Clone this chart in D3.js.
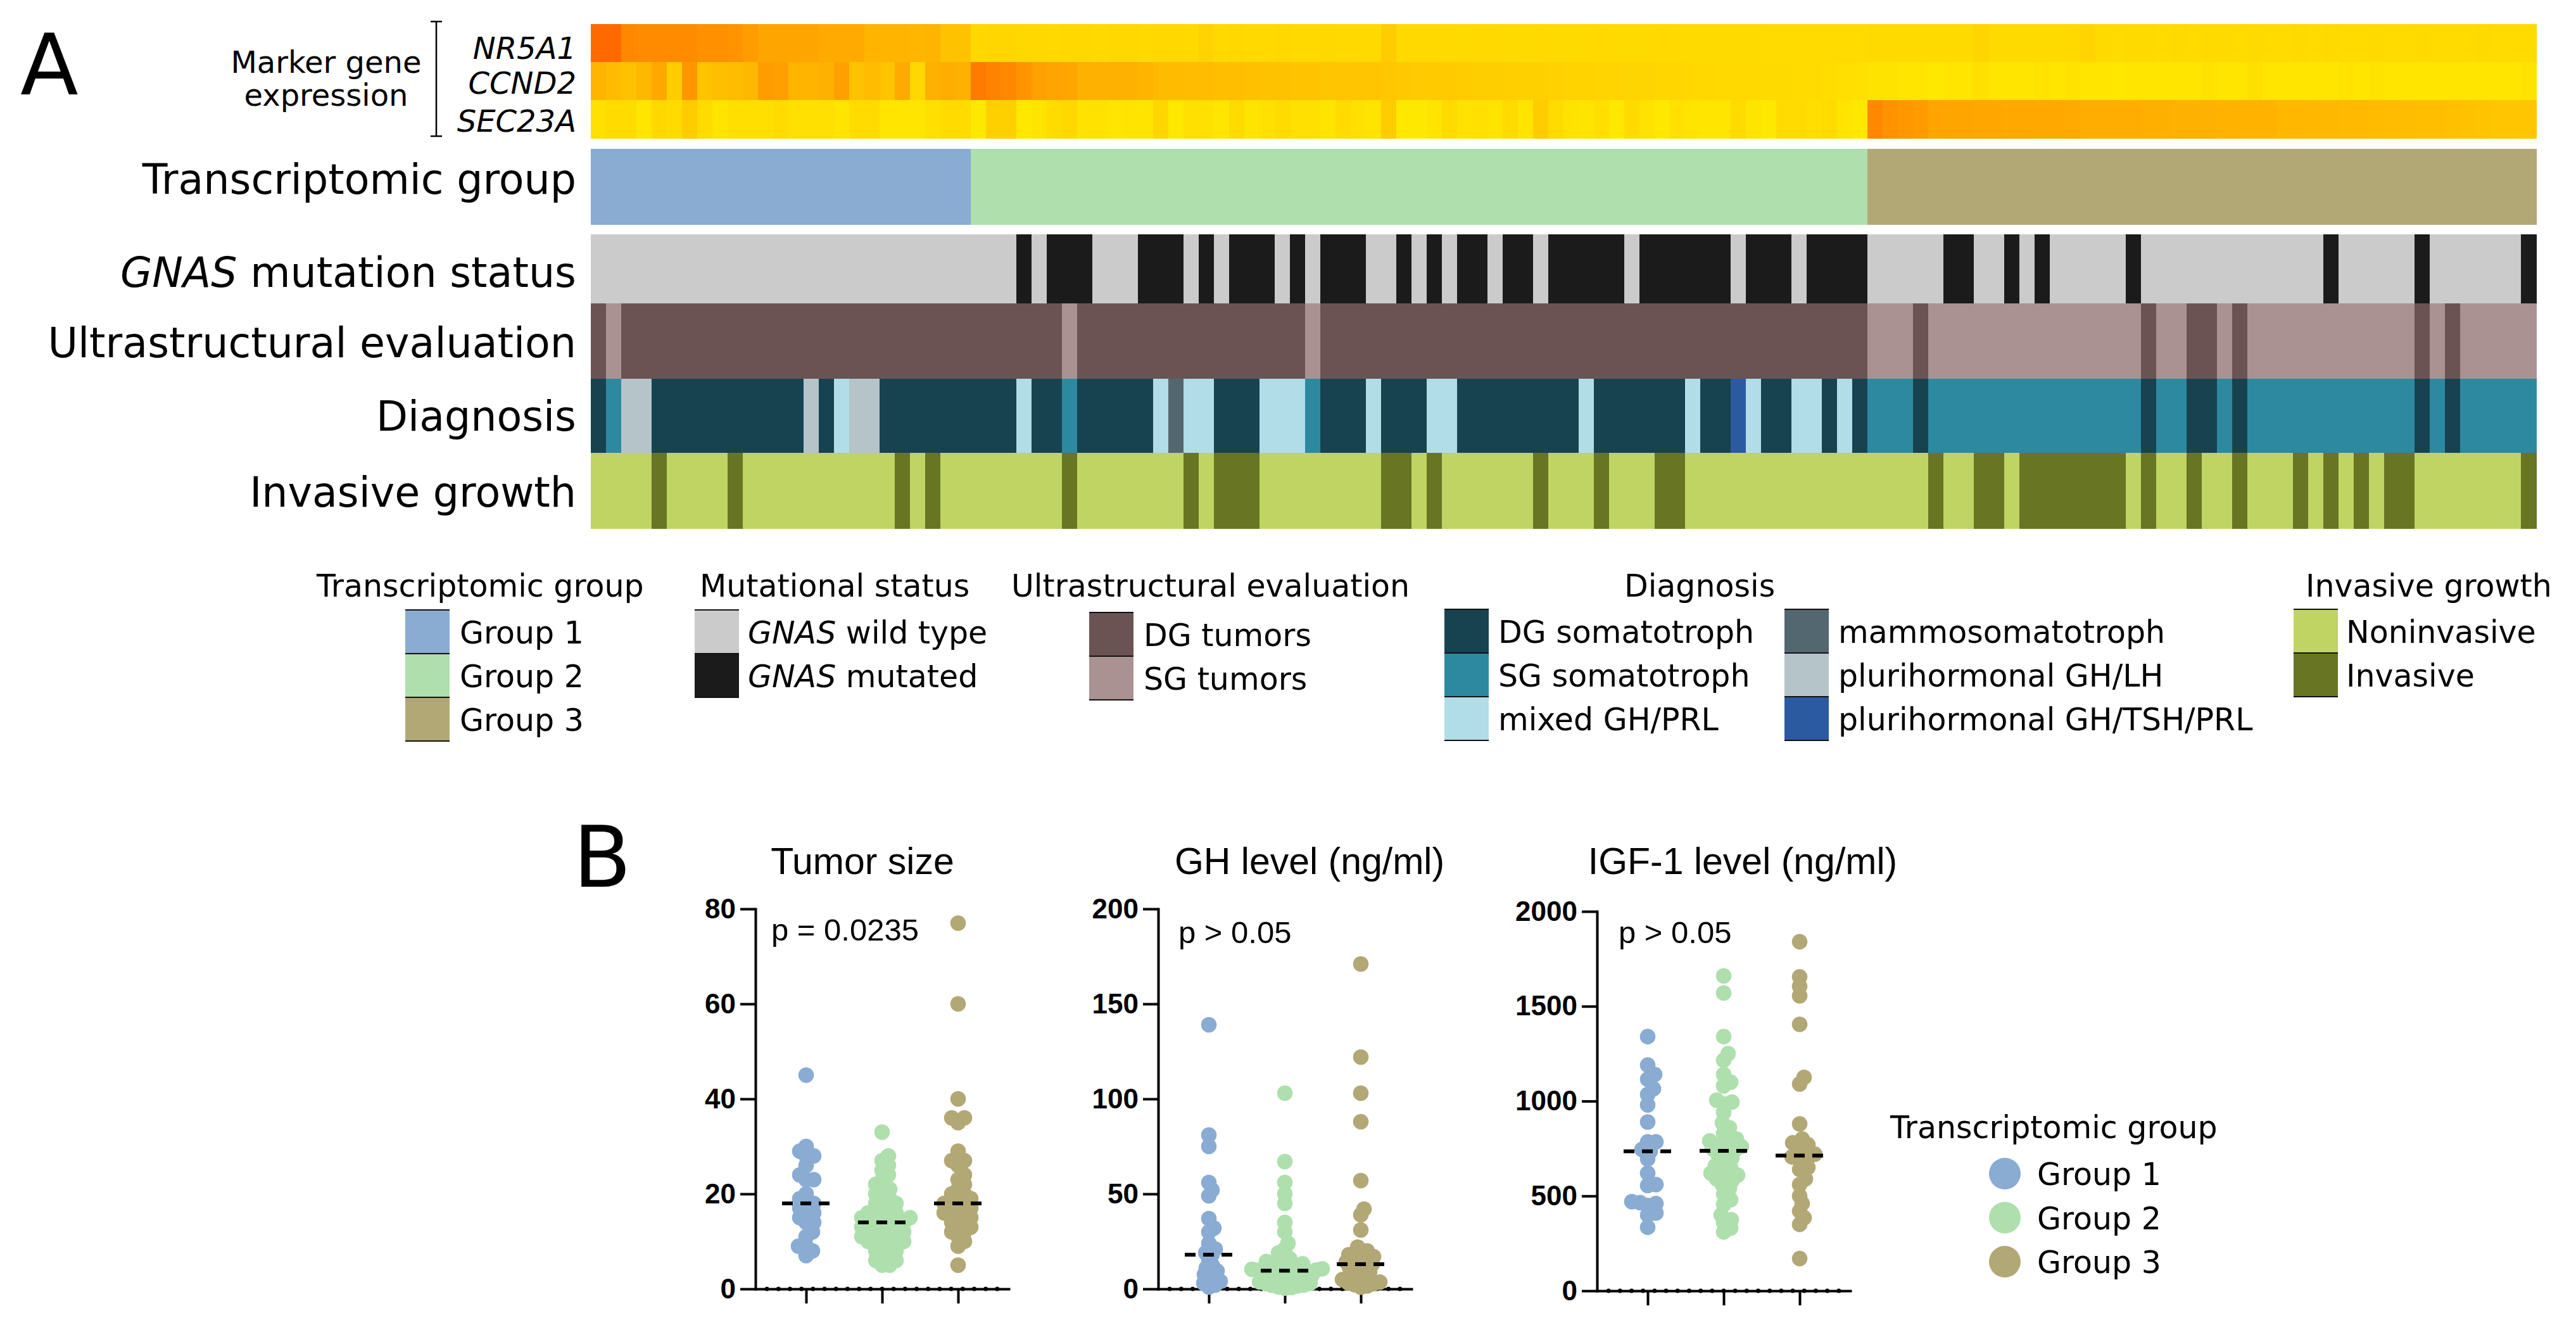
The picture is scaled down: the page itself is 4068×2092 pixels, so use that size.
<!DOCTYPE html>
<html>
<head>
<meta charset="utf-8">
<script src="https://cdn.jsdelivr.net/npm/d3@7"></script>
<style>
  html, body { margin: 0; padding: 0; background: #fff; }
  svg { display: block; }
</style>
</head>
<body>
<svg id="chart"></svg>
<script>
// ---------- data ----------
const groupNames = ['Group 1', 'Group 2', 'Group 3'];
const groupCounts = [25, 59, 44];
const groupColors = ['#8aabd2', '#aedfad', '#b2a876'];

// marker gene expression (0 = yellow, 1 = orange), one value per tumor
const genes = ['NR5A1', 'CCND2', 'SEC23A'];
const nr5a1 = [
  1.00, 1.00, 0.76, 0.73, 0.73, 0.73, 0.73, 0.70, 0.70, 0.67, 0.60, 0.53, 0.53, 0.53, 0.53, 0.49, 0.49, 0.49, 0.41, 0.41, 0.41, 0.40, 0.41, 0.30, 0.30,
  0.13, 0.14, 0.14, 0.13, 0.13, 0.12, 0.13, 0.13, 0.12, 0.13, 0.13, 0.12, 0.13, 0.13, 0.12, 0.17,
  0.12, 0.13, 0.12, 0.12, 0.13, 0.12, 0.12, 0.13, 0.12, 0.12, 0.12, 0.22,
  0.12, 0.12, 0.12, 0.12, 0.11, 0.12, 0.12, 0.11, 0.11, 0.12, 0.11, 0.11, 0.11, 0.12, 0.11, 0.11,
  0.11, 0.12, 0.11, 0.11, 0.11, 0.11, 0.11, 0.11, 0.10, 0.10, 0.10, 0.10, 0.10, 0.10, 0.10,
  0.11, 0.11, 0.11, 0.11, 0.11, 0.11, 0.11, 0.15, 0.11, 0.11, 0.11, 0.11, 0.11, 0.12, 0.16,
  0.11, 0.10, 0.11, 0.11, 0.10, 0.11, 0.10, 0.11, 0.11, 0.10, 0.11, 0.10, 0.10, 0.11, 0.10,
  0.11, 0.10, 0.10, 0.11, 0.10, 0.10, 0.11, 0.10, 0.10, 0.10, 0.11, 0.10, 0.10, 0.10
];
const ccnd2 = [
  0.41, 0.35, 0.30, 0.38, 0.51, 0.22, 0.65, 0.29, 0.33, 0.35, 0.38, 0.60, 0.57, 0.41, 0.41, 0.44, 0.57, 0.30, 0.35, 0.29, 0.49, 0.13, 0.44, 0.47, 0.44,
  0.87, 0.81, 0.76, 0.67, 0.56, 0.54, 0.52, 0.44, 0.44, 0.44, 0.44, 0.41, 0.36, 0.36, 0.35, 0.35, 0.33, 0.33, 0.32, 0.30,
  0.30, 0.29, 0.29, 0.28, 0.28, 0.27, 0.27, 0.26, 0.25, 0.24, 0.24, 0.23, 0.22, 0.21, 0.21, 0.20, 0.19, 0.19, 0.18, 0.17,
  0.17, 0.16, 0.16, 0.15, 0.15, 0.14, 0.14, 0.13, 0.13, 0.12, 0.12, 0.12, 0.11, 0.11, 0.10, 0.10, 0.09, 0.08, 0.06,
  0.04, 0.04, 0.02, 0.02, 0.01, 0.02, 0.02, 0.06, 0.02, 0.02, 0.02, 0.05, 0.02, 0.05, 0.02,
  0.02, 0.01, 0.02, 0.02, 0.02, 0.02, 0.02, 0.05, 0.02, 0.02, 0.07, 0.02, 0.02, 0.02, 0.02,
  0.02, 0.05, 0.02, 0.04, 0.02, 0.02, 0.02, 0.02, 0.02, 0.02, 0.02, 0.02, 0.02, 0.04
];
const sec23a = [
  0.06, 0.10, 0.10, 0.02, 0.13, 0.10, 0.22, 0.10, 0.03, 0.07, 0.07, 0.07, 0.10, 0.06, 0.06, 0.06, 0.03, 0.10, 0.10, 0.02, 0.02, 0.02, 0.06, 0.10, 0.10,
  0.00, 0.19, 0.19, 0.00, 0.03, 0.10, 0.13, 0.05, 0.05, 0.02, 0.03, 0.03, 0.14, 0.00, 0.06, 0.06, 0.02, 0.10,
  0.03, 0.06, 0.10, 0.06, 0.06, 0.03, 0.10, 0.06, 0.03, 0.22, 0.00, 0.00, 0.03, 0.10, 0.05, 0.06, 0.03, 0.10, 0.03, 0.22,
  0.10, 0.05, 0.03, 0.08, 0.00, 0.10, 0.05, 0.00, 0.06, 0.03, 0.02, 0.02, 0.10, 0.03, 0.00, 0.10, 0.10, 0.08, 0.10, 0.03, 0.00,
  0.76, 0.68, 0.64, 0.62, 0.54, 0.53, 0.53, 0.52, 0.52, 0.51, 0.51, 0.50, 0.50, 0.49, 0.47,
  0.47, 0.46, 0.46, 0.45, 0.45, 0.44, 0.44, 0.44, 0.43, 0.43, 0.42, 0.42, 0.39, 0.39, 0.38,
  0.38, 0.37, 0.37, 0.36, 0.35, 0.34, 0.33, 0.33, 0.32, 0.31, 0.29, 0.28, 0.28, 0.27
];

// annotation rows, written as runs [code, number of tumors] from left to right
const gnasRuns = [['W',28],['M',1],['W',1],['M',3],['W',3],['M',3],['W',1],['M',1],['W',1],['M',3],['W',1],['M',1],['W',1],['M',3],
  ['W',2],['M',1],['W',1],['M',1],['W',1],['M',2],['W',1],['M',2],['W',1],['M',5],['W',1],['M',6],['W',1],['M',3],['W',1],['M',4],
  ['W',5],['M',2],['W',2],['M',1],['W',1],['M',1],['W',5],['M',1],['W',12],['M',1],['W',5],['M',1],['W',6],['M',1]];
const ultraRuns = [['D',1],['S',1],['D',29],['S',1],['D',15],['S',1],['D',36],
  ['S',3],['D',1],['S',14],['D',1],['S',2],['D',2],['S',1],['D',1],['S',11],['D',1],['S',1],['D',1],['S',5]];
const diagRuns = [['D',1],['S',1],['L',2],['D',10],['L',1],['D',1],['X',1],['L',2],['D',9],['X',1],['D',2],['S',1],['D',5],['X',1],['M',1],
  ['X',2],['D',3],['X',3],['S',1],['D',3],['X',1],['D',3],['X',2],['D',8],['X',1],['D',6],['X',1],['D',2],['T',1],['X',1],['D',2],['X',2],['D',1],['X',1],['D',1],
  ['S',3],['D',1],['S',14],['D',1],['S',2],['D',2],['S',1],['D',1],['S',11],['D',1],['S',1],['D',1],['S',5]];
const invasiveRuns = [['N',4],['I',1],['N',4],['I',1],['N',10],['I',1],['N',1],['I',1],['N',8],['I',1],['N',7],['I',1],['N',1],['I',3],
  ['N',8],['I',2],['N',1],['I',1],['N',6],['I',1],['N',3],['I',1],['N',3],['I',2],['N',16],['I',1],['N',2],['I',2],['N',1],['I',7],
  ['N',1],['I',1],['N',2],['I',1],['N',2],['I',1],['N',3],['I',1],['N',1],['I',1],['N',1],['I',1],['N',1],['I',2],['N',7],['I',1]];

const gnasColors = {W: '#cbcbcb', M: '#1b1b1b'};
const ultraColors = {D: '#6b5354', S: '#aa9292'};
const diagColors = {D: '#174351', S: '#2d89a0', X: '#b0dde8', M: '#536770', L: '#b5c4c9', T: '#2b5aa0'};
const invasiveColors = {N: '#bfd462', I: '#687523'};

const gnasLabels = ['wild type', 'mutated'];
const ultraLabels = ['DG tumors', 'SG tumors'];
const diagLabels = {D: 'DG somatotroph', S: 'SG somatotroph', X: 'mixed GH/PRL',
  M: 'mammosomatotroph', L: 'plurihormonal GH/LH', T: 'plurihormonal GH/TSH/PRL'};
const invasiveLabels = ['Noninvasive', 'Invasive'];

// panel B values per transcriptomic group
const tumorG1 = [45, 30, 29, 28, 28, 26, 24, 23, 23, 20, 19, 18, 18, 17, 16, 16, 15, 14, 14, 12, 11, 9, 9, 8, 7];
const tumorG2 = [33, 28, 27, 26, 25, 24, 23, 22, 21, 21, 20, 19, 19, 18, 18, 17, 17, 16, 16, 16, 15, 15, 15, 15, 14, 14,
  14, 14, 13, 13, 13, 12, 12, 12, 12, 11, 11, 11, 10, 10, 10, 10, 9, 9, 8, 8, 7, 7, 6, 6, 5, 5];
const tumorG3 = [77, 60, 40, 36, 36, 35, 29, 27, 27, 26, 24, 23, 22, 21, 20, 20, 19, 19, 18, 18, 18, 17, 17, 16, 16, 16,
  15, 15, 14, 14, 13, 13, 12, 12, 11, 10, 9, 5];
const ghG1 = [139, 81, 75, 56, 52, 49, 37, 32, 30, 24, 21, 19, 18, 15, 12, 11, 9.4, 8.4, 7.6, 6, 5, 4, 3, 2, 1];
const ghG2 = [103, 67, 56, 50, 45, 35, 30, 24, 21, 19, 17, 15.8, 14.4, 13.6, 13.2, 12.4, 12.1, 11.6, 11.2, 10.6, 10.3, 10.1,
  9.9, 9.8, 9.6, 9.3, 8.9, 8.7, 8.1, 7.9, 7.2, 7.0, 6.8, 6.1, 5.7, 5.5, 4.8, 4.6, 4.3, 3.7, 3.5, 3.0, 2.8, 2.1, 1.9,
  1.6, 1.1, 0.7, 0.4];
const ghG3 = [171, 122, 103, 88, 57, 42, 39, 31, 22, 20, 19, 18, 17, 16.4, 15.8, 15.1, 14.2, 13, 12.6, 12.1, 11.3, 10.2,
  9.1, 8.3, 7.4, 6.2, 5.3, 4.9, 4.1, 3.6, 3.2, 2.7, 2.2, 1.6, 0.9];
const igfG1 = [1340, 1190, 1140, 1115, 1065, 1035, 980, 890, 785, 785, 745, 735, 695, 620, 560, 555, 470, 465, 460, 450, 410, 400, 335];
const igfG2 = [1660, 1570, 1340, 1250, 1215, 1140, 1100, 1080, 1005, 995, 985, 940, 885, 860, 830, 800, 790, 780, 770, 760,
  750, 740, 735, 720, 700, 690, 660, 650, 640, 620, 610, 600, 590, 580, 560, 540, 510, 480, 455, 400, 375, 360, 330, 310];
const igfG3 = [1840, 1655, 1605, 1555, 1405, 1125, 1090, 880, 800, 780, 770, 760, 720, 706, 700, 690, 650, 640, 590, 560,
  500, 460, 420, 385, 350, 170];

// ---------- setup ----------
const W = 4068, H = 2092;
const SANS = '"DejaVu Sans", Verdana, sans-serif';
const ARIAL = '"Liberation Sans", Arial, sans-serif';

const expand = runs => runs.flatMap(([c, n]) => Array(n).fill(c));
const sampleGroup = groupCounts.flatMap((n, g) => Array(n).fill(g));
const nSamples = sampleGroup.length;

const rows = [nr5a1, ccnd2, sec23a, expand(gnasRuns), expand(ultraRuns), expand(diagRuns), expand(invasiveRuns)];
rows.forEach((r, i) => { if (r.length !== nSamples) throw new Error('row ' + i + ' has ' + r.length + ' values'); });

const svg = d3.select('#chart').attr('width', W).attr('height', H);
svg.append('rect').attr('width', W).attr('height', H).attr('fill', '#fff');

// ---------- panel A ----------
const x = d3.scaleBand().domain(d3.range(nSamples)).range([933, 4005]);
const geneY = d3.scaleBand().domain(genes).range([38, 218]);
const heatColor = d3.scaleLinear().domain([0, 1]).range(['#ffe800', '#ff6a00']).clamp(true);
const expr = {NR5A1: nr5a1, CCND2: ccnd2, SEC23A: sec23a};

const heat = svg.append('g').attr('shape-rendering', 'crispEdges');
genes.forEach(g => {
  heat.selectAll(null)
    .data(expr[g])
    .enter()
    .append('rect')
    .attr('x', (d, i) => x(i))
    .attr('y', geneY(g))
    .attr('width', x.bandwidth() + 0.6)
    .attr('height', geneY.bandwidth() + 0.6)
    .attr('fill', d => heatColor(d));
});

// annotation tracks
const tracks = [
  {codes: sampleGroup, color: d => groupColors[d], y0: 235, y1: 355},
  {codes: expand(gnasRuns), color: d => gnasColors[d], y0: 370, y1: 479},
  {codes: expand(ultraRuns), color: d => ultraColors[d], y0: 479, y1: 598},
  {codes: expand(diagRuns), color: d => diagColors[d], y0: 598, y1: 715},
  {codes: expand(invasiveRuns), color: d => invasiveColors[d], y0: 715, y1: 835}
];
tracks.forEach(t => {
  heat.selectAll(null)
    .data(t.codes)
    .enter()
    .append('rect')
    .attr('x', (d, i) => x(i))
    .attr('y', t.y0)
    .attr('width', x.bandwidth() + 0.6)
    .attr('height', t.y1 - t.y0)
    .attr('fill', t.color);
});

// row labels
const labels = svg.append('g').style('font-family', SANS).attr('fill', '#000');
labels.append('text').attr('x', 32).attr('y', 149).style('font-size', '134px').text('A');
labels.append('text').attr('x', 515).attr('y', 115).attr('text-anchor', 'middle').style('font-size', '48px').text('Marker gene');
labels.append('text').attr('x', 515).attr('y', 167).attr('text-anchor', 'middle').style('font-size', '48px').text('expression');
labels.append('path')
  .attr('d', 'M680,34H698M689,34V215M680,215H698')
  .attr('stroke', '#000').attr('stroke-width', 2.5).attr('fill', 'none');
const geneBaselines = [93, 148, 208];
labels.selectAll(null)
  .data(genes)
  .enter()
  .append('text')
  .attr('x', 910)
  .attr('y', (d, i) => geneBaselines[i])
  .attr('text-anchor', 'end')
  .style('font-size', '48px')
  .style('font-style', 'italic')
  .text(d => d);

const trackLabels = [
  {text: 'Transcriptomic group', y: 306},
  {italic: 'GNAS', text: ' mutation status', y: 453},
  {text: 'Ultrastructural evaluation', y: 564},
  {text: 'Diagnosis', y: 680},
  {text: 'Invasive growth', y: 800}
];
trackLabels.forEach(l => {
  const t = labels.append('text').attr('x', 910).attr('y', l.y).attr('text-anchor', 'end').style('font-size', '65px');
  if (l.italic) t.append('tspan').style('font-style', 'italic').text(l.italic);
  t.append('tspan').text(l.text);
});

// legends under panel A
function boxLegend(x0, y0, entries, labelX) {
  const bw = 70, bh = 69;
  const g = svg.append('g').style('font-family', SANS);
  g.selectAll('rect')
    .data(entries)
    .enter()
    .append('rect')
    .attr('x', x0)
    .attr('y', (d, i) => y0 + i * bh)
    .attr('width', bw)
    .attr('height', bh)
    .attr('fill', d => d.color);
  g.selectAll('line')
    .data(d3.range(entries.length + 1))
    .enter()
    .append('line')
    .attr('x1', x0).attr('x2', x0 + bw)
    .attr('y1', i => y0 + i * bh).attr('y2', i => y0 + i * bh)
    .attr('stroke', '#111').attr('stroke-width', 2);
  g.selectAll('text')
    .data(entries)
    .enter()
    .append('text')
    .attr('x', labelX)
    .attr('y', (d, i) => y0 + i * bh + bh / 2 + 18)
    .style('font-size', '49px')
    .each(function(d) {
      const t = d3.select(this);
      if (d.italic) t.append('tspan').style('font-style', 'italic').text(d.italic);
      t.append('tspan').text((d.italic ? ' ' : '') + d.label);
    });
}

const legendTitles = [
  {text: 'Transcriptomic group', x: 500},
  {text: 'Mutational status', x: 1105},
  {text: 'Ultrastructural evaluation', x: 1597},
  {text: 'Diagnosis', x: 2565},
  {text: 'Invasive growth', x: 3641}
];
svg.append('g').style('font-family', SANS)
  .selectAll('text')
  .data(legendTitles)
  .enter()
  .append('text')
  .attr('x', d => d.x)
  .attr('y', 942)
  .style('font-size', '49px')
  .text(d => d.text);

boxLegend(640, 963, groupNames.map((n, i) => ({label: n, color: groupColors[i]})), 726);
boxLegend(1097, 963, ['W', 'M'].map((c, i) => ({italic: 'GNAS', label: gnasLabels[i], color: gnasColors[c]})), 1181);
boxLegend(1720, 967, ['D', 'S'].map((c, i) => ({label: ultraLabels[i], color: ultraColors[c]})), 1806);
boxLegend(2281, 962, ['D', 'S', 'X'].map(c => ({label: diagLabels[c], color: diagColors[c]})), 2366);
boxLegend(2818, 962, ['M', 'L', 'T'].map(c => ({label: diagLabels[c], color: diagColors[c]})), 2903);
boxLegend(3622, 962, ['N', 'I'].map((c, i) => ({label: invasiveLabels[i], color: invasiveColors[c]})), 3705);

// ---------- panel B ----------
svg.append('text').attr('x', 905).attr('y', 1400)
  .style('font-family', SANS).style('font-size', '134px').text('B');

// simple beeswarm: place each dot as close to the centre as it can go
function swarm(values, cx, y, minD) {
  const pts = values.map(v => ({v, y: y(v)})).sort((a, b) => b.y - a.y);
  const placed = [];
  pts.forEach(p => {
    for (let k = 0; k < 400; k++) {
      const off = k % 2 ? (k + 1) / 2 : -k / 2;
      const px = cx + off;
      const ok = placed.every(q => (q.x - px) ** 2 + (q.y - p.y) ** 2 >= minD * minD);
      if (ok) { p.x = px; break; }
    }
    placed.push(p);
  });
  return placed;
}

const plots = [
  {title: 'Tumor size', titleX: 1362, pText: 'p = 0.0235', pX: 1218, pY: 1485, gap: 12,
   axisX: 1193, yTop: 1435, yBottom: 2035, max: 80, ticks: [0, 20, 40, 60, 80], series: [tumorG1, tumorG2, tumorG3]},
  {title: 'GH level (ng/ml)', titleX: 2068, pText: 'p > 0.05', pX: 1861, pY: 1489, gap: 10,
   axisX: 1829, yTop: 1435, yBottom: 2035, max: 200, ticks: [0, 50, 100, 150, 200], series: [ghG1, ghG2, ghG3]},
  {title: 'IGF-1 level (ng/ml)', titleX: 2752, pText: 'p > 0.05', pX: 2556, pY: 1489, gap: 12.5,
   axisX: 2522, yTop: 1439, yBottom: 2038, max: 2000, ticks: [0, 500, 1000, 1500, 2000], series: [igfG1, igfG2, igfG3]}
];

plots.forEach(p => {
  const y = d3.scaleLinear().domain([0, p.max]).range([p.yBottom, p.yTop]);
  const xl = d3.scaleLinear().domain([0, 5]).range([p.axisX, p.axisX + 400]);
  const centers = [1, 2.5, 4];
  const g = svg.append('g');

  g.append('text')
    .attr('x', p.titleX).attr('y', 1380)
    .attr('text-anchor', 'middle')
    .style('font-family', ARIAL).style('font-size', '59px')
    .text(p.title);
  g.append('text')
    .attr('x', p.pX).attr('y', p.pY)
    .style('font-family', ARIAL).style('font-size', '49px')
    .text(p.pText);

  const ya = g.append('g')
    .attr('transform', `translate(${p.axisX},0)`)
    .call(d3.axisLeft(y).tickValues(p.ticks).tickSize(24).tickSizeOuter(0).tickPadding(7).tickFormat(d3.format('d')));
  const xa = g.append('g')
    .attr('transform', `translate(0,${p.yBottom})`)
    .call(d3.axisBottom(xl).tickValues(centers).tickSize(23).tickSizeOuter(0).tickFormat(''));
  [ya, xa].forEach(a => {
    a.select('.domain').attr('stroke', '#000').attr('stroke-width', 4).attr('stroke-linecap', 'square');
    a.selectAll('.tick line').attr('stroke', '#000').attr('stroke-width', 4);
  });
  ya.selectAll('.tick text')
    .attr('fill', '#000')
    .style('font-family', ARIAL).style('font-size', '44px').style('font-weight', 'bold');

  // minor marks along the x axis
  g.selectAll('.minor')
    .data(d3.range(1, 22))
    .enter()
    .append('circle')
    .attr('cx', k => p.axisX + k * 400 / 22)
    .attr('cy', p.yBottom)
    .attr('r', 3.5)
    .attr('fill', '#000');

  p.series.forEach((vals, gi) => {
    const cx = xl(centers[gi]);
    g.append('g')
      .selectAll('circle')
      .data(swarm(vals, cx, y, p.gap))
      .enter()
      .append('circle')
      .attr('cx', d => d.x)
      .attr('cy', d => d.y)
      .attr('r', 12.3)
      .attr('fill', groupColors[gi]);
  });
  p.series.forEach((vals, gi) => {
    const cx = xl(centers[gi]);
    const m = y(d3.median(vals));
    g.append('line')
      .attr('x1', cx - 38).attr('x2', cx + 38)
      .attr('y1', m).attr('y2', m)
      .attr('stroke', '#000').attr('stroke-width', 6)
      .attr('stroke-dasharray', '17 12');
  });
});

// panel B legend
const legB = svg.append('g').style('font-family', SANS);
legB.append('text').attr('x', 2985).attr('y', 1797).style('font-size', '49px').text('Transcriptomic group');
const legY = d3.scalePoint().domain(groupNames).range([1853, 1992]);
legB.selectAll('circle')
  .data(groupNames)
  .enter()
  .append('circle')
  .attr('cx', 3166)
  .attr('cy', d => legY(d))
  .attr('r', 25)
  .attr('fill', (d, i) => groupColors[i]);
legB.selectAll('.lab')
  .data(groupNames)
  .enter()
  .append('text')
  .attr('x', 3217)
  .attr('y', d => legY(d) + 18)
  .style('font-size', '49px')
  .text(d => d);
</script>
</body>
</html>
